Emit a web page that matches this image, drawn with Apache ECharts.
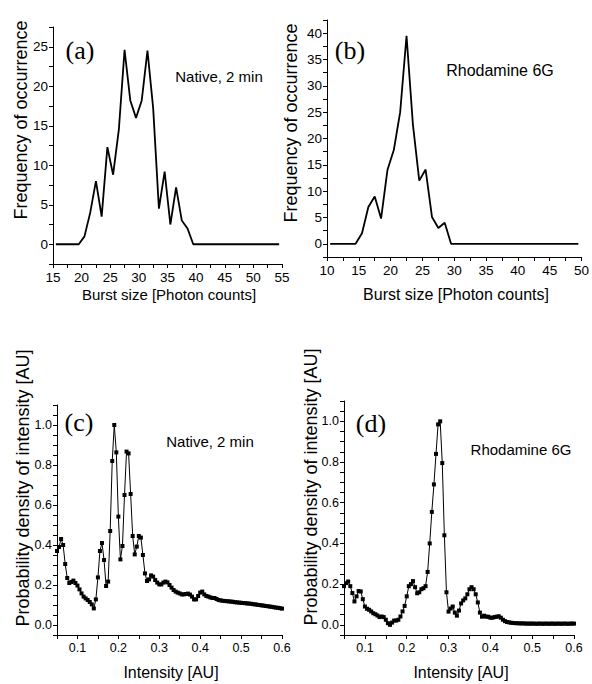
<!DOCTYPE html>
<html>
<head>
<meta charset="utf-8">
<script src="https://cdn.jsdelivr.net/npm/echarts@6/dist/echarts.min.js"></script>
<style>
html,body{margin:0;padding:0;background:#fff;}
#chart{width:592px;height:684px;}
</style>
</head>
<body>
<div id="chart"></div>
<script>
// ---- Panel (a): Native, 2 min burst size histogram ----
const burstA = [15.5,16.5,17.5,18.5,19.5,20.5,21.5,22.5,23.5,24.5,25.5,26.5,27.5,28.5,29.5,30.5,31.5,32.5,33.5,34.5,35.5,36.5,37.5,38.5,39.5,40.5,41.5,42.5,43.5,44.5,45.5,46.5,47.5,48.5,49.5,50.5,51.5,52.5,53.5,54.5];
const freqA = [0,0,0,0,0,1,4,8,3.5,12.3,8.8,14.5,24.6,18.2,16,18.2,24.5,17.2,4.5,9.2,2.5,7.2,3,2,0,0,0,0,0,0,0,0,0,0,0,0,0,0,0,0];
// ---- Panel (b): Rhodamine 6G burst size histogram ----
const burstB = [10.5,11.5,12.5,13.5,14.5,15.5,16.5,17.5,18.5,19.5,20.5,21.5,22.5,23.5,24.5,25.5,26.5,27.5,28.5,29.5,30.5,31.5,32.5,33.5,34.5,35.5,36.5,37.5,38.5,39.5,40.5,41.5,42.5,43.5,44.5,45.5,46.5,47.5,48.5,49.5];
const freqB = [0,0,0,0,0,2,7,9,4.8,14,17.8,25,39.5,22.7,12,14.1,5.1,3,4,0,0,0,0,0,0,0,0,0,0,0,0,0,0,0,0,0,0,0,0,0];
// ---- Panels (c),(d): probability density of intensity ----
const intensity = [0.05,0.055,0.06,0.065,0.07,0.075,0.08,0.085,0.09,0.095,0.1,0.105,0.11,0.115,0.12,0.125,0.13,0.135,0.14,0.145,0.15,0.155,0.16,0.165,0.17,0.175,0.18,0.185,0.19,0.195,0.2,0.205,0.21,0.215,0.22,0.225,0.23,0.235,0.24,0.245,0.25,0.255,0.26,0.265,0.27,0.275,0.28,0.285,0.29,0.295,0.3,0.305,0.31,0.315,0.32,0.325,0.33,0.335,0.34,0.345,0.35,0.355,0.36,0.365,0.37,0.375,0.38,0.385,0.39,0.395,0.4,0.405,0.41,0.415,0.42,0.425,0.43,0.435,0.44,0.445,0.45,0.455,0.46,0.465,0.47,0.475,0.48,0.485,0.49,0.495,0.5,0.505,0.51,0.515,0.52,0.525,0.53,0.535,0.54,0.545,0.55,0.555,0.56,0.565,0.57,0.575,0.58,0.585,0.59,0.595,0.6];
const densityC = [0.37,0.39,0.43,0.40,0.305,0.235,0.21,0.215,0.222,0.21,0.197,0.178,0.158,0.142,0.133,0.125,0.115,0.103,0.083,0.128,0.238,0.37,0.41,0.325,0.195,0.217,0.47,0.82,1.0,0.863,0.542,0.328,0.395,0.65,0.867,0.858,0.655,0.445,0.353,0.392,0.445,0.437,0.35,0.258,0.22,0.228,0.248,0.242,0.225,0.212,0.203,0.203,0.212,0.217,0.213,0.2,0.187,0.175,0.167,0.162,0.158,0.153,0.153,0.155,0.157,0.152,0.142,0.128,0.128,0.145,0.162,0.167,0.153,0.145,0.142,0.138,0.135,0.135,0.13,0.125,0.123,0.121,0.12,0.119,0.118,0.117,0.116,0.114,0.113,0.112,0.111,0.110,0.109,0.108,0.107,0.106,0.104,0.103,0.101,0.100,0.098,0.097,0.095,0.094,0.092,0.091,0.089,0.087,0.086,0.084,0.082];
const densityD = [0.19,0.205,0.213,0.19,0.156,0.115,0.14,0.166,0.164,0.126,0.09,0.079,0.074,0.066,0.057,0.052,0.046,0.038,0.041,0.038,0.025,0.008,0.0,0.011,0.021,0.021,0.025,0.041,0.066,0.093,0.14,0.19,0.20,0.215,0.185,0.155,0.16,0.175,0.18,0.19,0.26,0.40,0.555,0.69,0.84,0.985,1.0,0.795,0.44,0.16,0.065,0.08,0.09,0.06,0.045,0.07,0.105,0.12,0.13,0.15,0.175,0.185,0.175,0.15,0.11,0.06,0.04,0.045,0.04,0.04,0.035,0.035,0.038,0.04,0.042,0.035,0.025,0.018,0.014,0.012,0.01,0.009,0.008,0.008,0.007,0.007,0.007,0.006,0.006,0.006,0.006,0.006,0.005,0.006,0.006,0.005,0.006,0.006,0.005,0.006,0.006,0.005,0.006,0.006,0.005,0.006,0.006,0.005,0.006,0.006,0.006];

const tickLabelsA = [0,5,10,15,20,25];
const tickLabelsB = [0,5,10,15,20,25,30,35,40];

function pairs(xs, ys){ return xs.map((x,i)=>[x, ys[i]]); }

const FONT = '"Liberation Sans", Arial, sans-serif';
const SERIF = '"Liberation Serif", "Times New Roman", serif';
const BLACK = '#000';

function near(v, step){ return Math.abs(v/step - Math.round(v/step)) < 1e-6; }

function valueAxis(gridIndex, min, max, interval, labelFn, fontSize){
  return {
    type:'value', gridIndex, min, max, interval,
    axisLine:{show:true, onZero:false, lineStyle:{color:BLACK, width:1}},
    axisTick:{show:true, inside:false, length:4, lineStyle:{color:BLACK}},
    splitLine:{show:false},
    axisLabel:{color:BLACK, fontFamily:FONT, fontSize:fontSize, margin:5, formatter:labelFn, showMinLabel:true, showMaxLabel:true}
  };
}

const xA = valueAxis(0, 15, 55, 2.5, v => near(v,5) ? String(Math.round(v)) : '', 13.5);
const yA = valueAxis(0, -2.5, 27.5, 2.5, v => (near(v,5) && v>=0 && v<=25) ? String(Math.round(v)) : '', 13.5);
const xB = valueAxis(1, 10, 50, 2.5, v => near(v,5) ? String(Math.round(v)) : '', 13.5);
const yB = valueAxis(1, -2.5, 42.5, 2.5, v => (near(v,5) && v>=0 && v<=40) ? String(Math.round(v)) : '', 13.5);
const xC = valueAxis(2, 0.05, 0.6, 0.05, v => (near(v,0.1) && v>0.09) ? v.toFixed(1) : '', 12.5);
const yC = valueAxis(2, -0.05, 1.1, 0.05, v => (near(v,0.2) && v>-0.01 && v<1.01) ? v.toFixed(1) : '', 12.5);
const xD = valueAxis(3, 0.05, 0.6, 0.05, v => (near(v,0.1) && v>0.09) ? v.toFixed(1) : '', 12.5);
const yD = valueAxis(3, -0.05, 1.1, 0.05, v => (near(v,0.2) && v>-0.01 && v<1.01) ? v.toFixed(1) : '', 12.5);
[xA,xB,xC,xD].forEach(a=>{ a.axisLabel.margin = 6; });

function txt(x, y, text, font, rot){
  return {type:'text', x, y, rotation: rot||0,
    style:{text, font, fill:BLACK, align:'center', verticalAlign:'middle', textAlign:'center', textVerticalAlign:'middle'}};
}

const option = {
  animation:false,
  backgroundColor:'#fff',
  grid:[
    {left:53, top:27, width:229, height:237},
    {left:327, top:20, width:256, height:237},
    {left:57, top:405, width:225, height:230},
    {left:344, top:401, width:230, height:234}
  ],
  xAxis:[xA,xB,xC,xD],
  yAxis:[yA,yB,yC,yD],
  series:[
    {type:'line', xAxisIndex:0, yAxisIndex:0, data:pairs(burstA,freqA), showSymbol:false, symbol:'none', lineStyle:{color:BLACK, width:1.8}},
    {type:'line', xAxisIndex:1, yAxisIndex:1, data:pairs(burstB,freqB), showSymbol:false, symbol:'none', lineStyle:{color:BLACK, width:1.8}},
    {type:'line', xAxisIndex:2, yAxisIndex:2, data:pairs(intensity,densityC), symbol:'rect', symbolSize:4, itemStyle:{color:BLACK}, lineStyle:{color:BLACK, width:1}},
    {type:'line', xAxisIndex:3, yAxisIndex:3, data:pairs(intensity,densityD), symbol:'rect', symbolSize:4, itemStyle:{color:BLACK}, lineStyle:{color:BLACK, width:1}}
  ],
  graphic:[
    txt(21, 120, 'Frequency of occurrence', '18px ' + FONT, Math.PI/2),
    txt(291, 123, 'Frequency of occurrence', '18px ' + FONT, Math.PI/2),
    txt(23, 488, 'Probability density of intensity [AU]', '18px ' + FONT, Math.PI/2),
    txt(311, 487, 'Probability density of intensity [AU]', '18px ' + FONT, Math.PI/2),
    txt(169, 294, 'Burst size [Photon counts]', '15px ' + FONT),
    txt(456, 294, 'Burst size [Photon counts]', '16px ' + FONT),
    txt(171, 672, 'Intensity [AU]', '16px ' + FONT),
    txt(461, 672, 'Intensity [AU]', '16px ' + FONT),
    txt(80, 50, '(a)', '26px ' + SERIF),
    txt(350, 50, '(b)', '26px ' + SERIF),
    txt(79, 422, '(c)', '26px ' + SERIF),
    txt(371, 423, '(d)', '26px ' + SERIF),
    txt(219, 76, 'Native, 2 min', '15px ' + FONT),
    txt(500, 70, 'Rhodamine 6G', '16px ' + FONT),
    txt(210, 441, 'Native, 2 min', '15px ' + FONT),
    txt(521, 449, 'Rhodamine 6G', '15px ' + FONT)
  ]
};

const chart = echarts.init(document.getElementById('chart'), null, {renderer:'svg'});
chart.setOption(option);
</script>
</body>
</html>
